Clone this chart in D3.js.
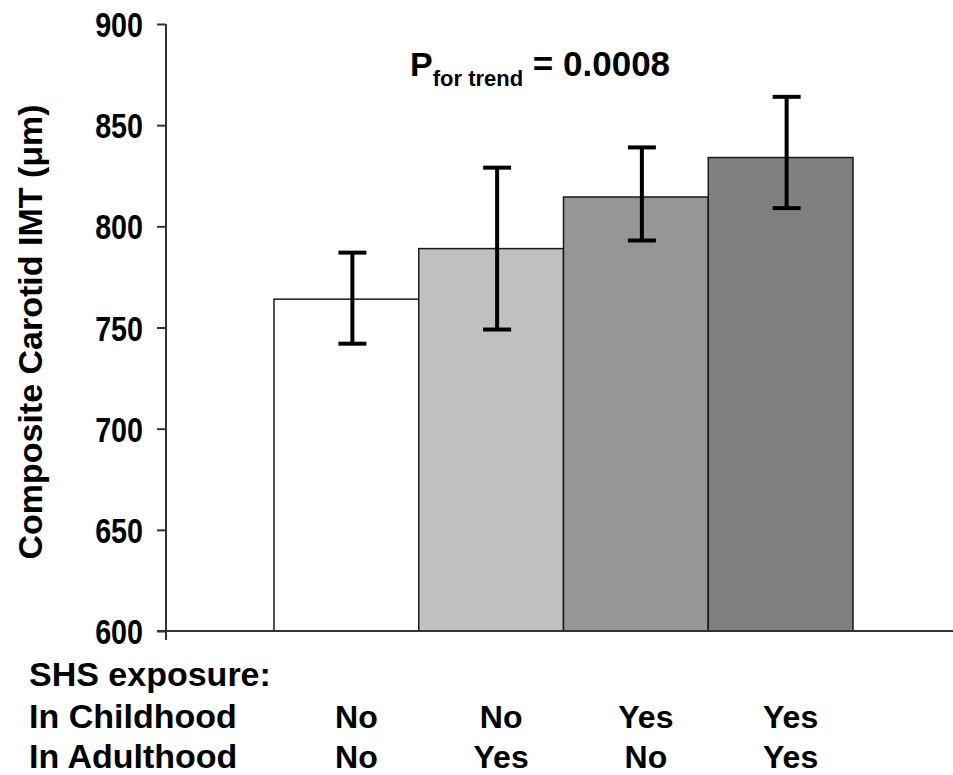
<!DOCTYPE html>
<html>
<head>
<meta charset="utf-8">
<script src="https://cdn.jsdelivr.net/npm/d3@7"></script>
<style>
  html, body { margin: 0; padding: 0; background: #fff; }
  svg { display: block; }
  .bold { font-family: "Liberation Sans", Arial, Helvetica, sans-serif; font-weight: bold; }
</style>
</head>
<body>
<svg id="chart" width="953" height="775"></svg>
<script>
// ---- data ----
const categories = ["No/No", "No/Yes", "Yes/No", "Yes/Yes"];
const means = [764, 789, 814.5, 834];
const errLow = [742, 749, 793, 809];
const errHigh = [787, 829, 839, 864];
const fills = ["#ffffff", "#c0c0c0", "#969696", "#808080"];
const childhood = ["No", "No", "Yes", "Yes"];
const adulthood = ["No", "Yes", "No", "Yes"];
const yTicks = [600, 650, 700, 750, 800, 850, 900];

const svg = d3.select("#chart");

const y = d3.scaleLinear().domain([600, 900]).range([631, 24]);
const x = d3.scaleBand().domain(categories).range([274, 853]).padding(0);

// bars
svg.append("g").selectAll("rect")
  .data(categories)
  .join("rect")
  .attr("x", d => x(d))
  .attr("y", (d, i) => y(means[i]))
  .attr("width", x.bandwidth())
  .attr("height", (d, i) => y(600) - y(means[i]))
  .attr("fill", (d, i) => fills[i])
  .attr("stroke", "#1a1a1a")
  .attr("stroke-width", 1.5);

// error bars
const errOffset = 6;
const cap = 28;
const eg = svg.append("g").attr("stroke", "#000").attr("stroke-width", 4);
categories.forEach((c, i) => {
  const cx = x(c) + x.bandwidth() / 2 + errOffset;
  eg.append("line").attr("x1", cx).attr("x2", cx).attr("y1", y(errLow[i])).attr("y2", y(errHigh[i]));
  eg.append("line").attr("x1", cx - cap / 2).attr("x2", cx + cap / 2).attr("y1", y(errHigh[i])).attr("y2", y(errHigh[i]));
  eg.append("line").attr("x1", cx - cap / 2).attr("x2", cx + cap / 2).attr("y1", y(errLow[i])).attr("y2", y(errLow[i]));
});

// y axis
const narrow = 0.82;
const yAxis = d3.axisLeft(y).tickValues(yTicks).tickSize(9).tickPadding(14).tickFormat(d3.format("d"));
const ga = svg.append("g").attr("transform", "translate(166,0)").call(yAxis);
ga.select(".domain").attr("stroke", "#333").attr("stroke-width", 2).attr("d", "M0,24V640");
ga.selectAll(".tick line").attr("stroke", "#333").attr("stroke-width", 2);
ga.selectAll(".tick text")
  .attr("class", "bold").attr("font-size", 35).attr("fill", "#000").attr("dy", "0.36em")
  .attr("x", -23 / narrow)
  .attr("transform", `scale(${narrow},1)`);

// x baseline
svg.append("line").attr("x1", 157).attr("x2", 953).attr("y1", y(600)).attr("y2", y(600))
  .attr("stroke", "#333").attr("stroke-width", 2);

// y label
svg.append("text").attr("class", "bold")
  .attr("transform", `translate(42,${332}) rotate(-90)`)
  .attr("text-anchor", "middle").attr("font-size", 34).attr("fill", "#000")
  .text("Composite Carotid IMT (μm)");

// P for trend
const pt = svg.append("text").attr("class", "bold").attr("x", 410).attr("y", 76).attr("fill", "#000");
pt.append("tspan").attr("font-size", 34).text("P");
pt.append("tspan").attr("font-size", 22).attr("dy", 10).text("for trend");
pt.append("tspan").attr("font-size", 35).attr("dy", -10).text(" = 0.0008");

// bottom table
const textOffset = 10;
svg.append("text").attr("class", "bold").attr("x", 29).attr("y", 686).attr("font-size", 34).attr("fill", "#000").text("SHS exposure:");
svg.append("text").attr("class", "bold").attr("x", 29).attr("y", 728).attr("font-size", 34).attr("fill", "#000").text("In Childhood");
svg.append("text").attr("class", "bold").attr("x", 29).attr("y", 768).attr("font-size", 34).attr("fill", "#000").text("In Adulthood");

svg.append("g").selectAll("text.c").data(categories).join("text")
  .attr("class", "bold").attr("text-anchor", "middle").attr("font-size", 32).attr("fill", "#000")
  .attr("x", d => x(d) + x.bandwidth() / 2 + textOffset).attr("y", 728)
  .text((d, i) => childhood[i]);
svg.append("g").selectAll("text.a").data(categories).join("text")
  .attr("class", "bold").attr("text-anchor", "middle").attr("font-size", 32).attr("fill", "#000")
  .attr("x", d => x(d) + x.bandwidth() / 2 + textOffset).attr("y", 768)
  .text((d, i) => adulthood[i]);
</script>
</body>
</html>
